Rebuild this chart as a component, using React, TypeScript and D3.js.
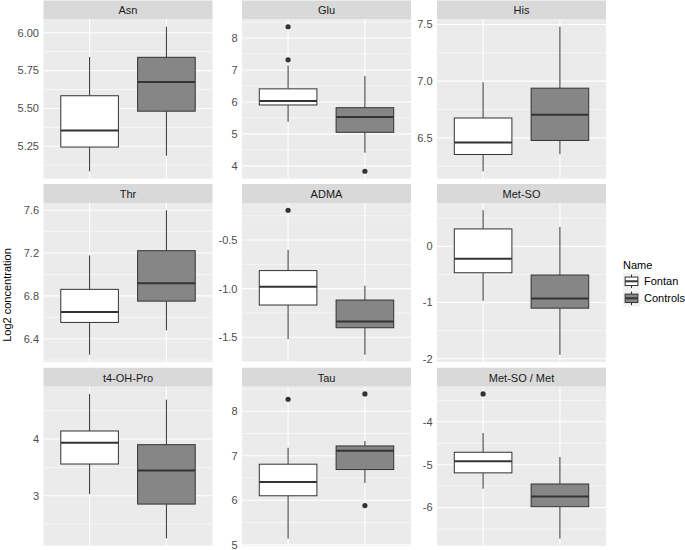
import React from "react";
import * as d3 from "d3";

const metabolites = ["Asn", "Glu", "His", "Thr", "ADMA", "Met-SO", "t4-OH-Pro", "Tau", "Met-SO / Met"];
const groups = ["Fontan", "Controls"];

// [lower whisker, Q1, median, Q3, upper whisker]
const fontanStats = [
  [5.085, 5.245, 5.355, 5.584, 5.84],
  [5.38, 5.906, 6.03, 6.41, 7.14],
  [6.205, 6.353, 6.459, 6.675, 6.99],
  [6.25, 6.552, 6.649, 6.861, 7.178],
  [-1.519, -1.168, -0.979, -0.814, -0.601],
  [-0.97, -0.47, -0.22, 0.31, 0.643],
  [3.03, 3.559, 3.935, 4.141, 4.794],
  [5.14, 6.1, 6.41, 6.81, 7.18],
  [-5.56, -5.19, -4.92, -4.71, -4.26],
];
const controlsStats = [
  [5.188, 5.482, 5.675, 5.838, 6.04],
  [4.41, 5.05, 5.53, 5.82, 6.816],
  [6.355, 6.477, 6.704, 6.938, 7.48],
  [6.478, 6.751, 6.917, 7.222, 7.6],
  [-1.68, -1.402, -1.337, -1.117, -0.969],
  [-1.93, -1.1, -0.93, -0.51, 0.346],
  [2.247, 2.853, 3.446, 3.9, 4.693],
  [6.39, 6.69, 7.11, 7.22, 7.33],
  [-6.72, -5.98, -5.74, -5.45, -4.82],
];
const fontanOutliers = [[], [8.355, 7.319], [], [], [-0.193], [], [], [8.27], [-3.35]];
const controlsOutliers = [[], [3.83], [], [], [], [], [], [8.39, 5.88], []];

const tickValues = [
  [5.25, 5.5, 5.75, 6.0],
  [4, 5, 6, 7, 8],
  [6.5, 7.0, 7.5],
  [6.4, 6.8, 7.2, 7.6],
  [-1.5, -1.0, -0.5],
  [-2, -1, 0],
  [3, 4],
  [5, 6, 7, 8],
  [-6, -5, -4],
];
const tickLabels = [
  ["5.25", "5.50", "5.75", "6.00"],
  ["4", "5", "6", "7", "8"],
  ["6.5", "7.0", "7.5"],
  ["6.4", "6.8", "7.2", "7.6"],
  ["-1.5", "-1.0", "-0.5"],
  ["-2", "-1", "0"],
  ["3", "4"],
  ["5", "6", "7", "8"],
  ["-6", "-5", "-4"],
];

const groupFills = ["#FFFFFF", "#868686"];

const W = 685;
const H = 550;
const colX = [43.5, 242, 437];
const panelW = 169;
const rowTop = [0.5, 184, 367.7];
const stripH = 19;
const panelH = 159;
const FONT = "'Liberation Sans', Arial, Helvetica, sans-serif";

function Panel({ idx }: { idx: number }) {
  const col = idx % 3;
  const row = Math.floor(idx / 3);
  const x0 = colX[col];
  const sTop = rowTop[row];
  const pTop = sTop + stripH;
  const pBot = pTop + panelH;

  const stats = [fontanStats[idx], controlsStats[idx]];
  const outs = [fontanOutliers[idx], controlsOutliers[idx]];
  const all = [...stats[0], ...stats[1], ...outs[0], ...outs[1]];
  const [mn, mx] = d3.extent(all) as [number, number];
  const pad = (mx - mn) * 0.05;
  const y = d3.scaleLinear().domain([mn - pad, mx + pad]).range([pBot, pTop]);

  const x = d3.scaleBand().domain(groups).range([x0, x0 + panelW]).paddingOuter(0.1).paddingInner(0.2);
  // ggplot discrete: positions at 0.6/2.2 and 1.6/2.2 of width, box width 0.75 units
  const unit = panelW / 2.2;
  const cx = (i: number) => x0 + (0.6 + i) * unit;
  const bw = 0.75 * unit;

  const ticks = tickValues[idx];
  const step = ticks.length > 1 ? ticks[1] - ticks[0] : 1;
  const ext = [ticks[0] - step, ...ticks, ticks[ticks.length - 1] + step];
  const minors: number[] = [];
  for (let i = 0; i < ext.length - 1; i++) {
    const m = (ext[i] + ext[i + 1]) / 2;
    const [d0, d1] = y.domain();
    if (m >= d0 && m <= d1) minors.push(m);
  }

  return (
    <g>
      <rect x={x0} y={sTop} width={panelW} height={stripH} fill="#D9D9D9" />
      <text
        x={x0 + panelW / 2}
        y={sTop + stripH / 2 + 0.5}
        dy="0.35em"
        textAnchor="middle"
        fontSize={11}
        fill="#1A1A1A"
        fontFamily={FONT}
      >
        {metabolites[idx]}
      </text>
      <rect x={x0} y={pTop} width={panelW} height={panelH} fill="#EBEBEB" />
      {minors.map((m, i) => (
        <line key={"mi" + i} x1={x0} x2={x0 + panelW} y1={y(m)} y2={y(m)} stroke="#FFFFFF" strokeWidth={0.6} />
      ))}
      {ticks.map((t, i) => (
        <line key={"ma" + i} x1={x0} x2={x0 + panelW} y1={y(t)} y2={y(t)} stroke="#FFFFFF" strokeWidth={1.1} />
      ))}
      {groups.map((g, i) => (
        <line key={"vx" + g} x1={cx(i)} x2={cx(i)} y1={pTop} y2={pBot} stroke="#FFFFFF" strokeWidth={1.1} />
      ))}
      {ticks.map((t, i) => (
        <text
          key={"tl" + i}
          x={x0 - 4.5}
          y={y(t)}
          dy="0.35em"
          textAnchor="end"
          fontSize={11}
          fill="#4D4D4D"
          fontFamily={FONT}
        >
          {tickLabels[idx][i]}
        </text>
      ))}
      {groups.map((g, i) => {
        const [lw, q1, med, q3, uw] = stats[i];
        const c = cx(i);
        return (
          <g key={"bx" + g}>
            <line x1={c} x2={c} y1={y(uw)} y2={y(q3)} stroke="#333333" strokeWidth={1} />
            <line x1={c} x2={c} y1={y(q1)} y2={y(lw)} stroke="#333333" strokeWidth={1} />
            <rect
              x={c - bw / 2}
              y={y(q3)}
              width={bw}
              height={y(q1) - y(q3)}
              fill={groupFills[i]}
              stroke="#333333"
              strokeWidth={1}
            />
            <line x1={c - bw / 2} x2={c + bw / 2} y1={y(med)} y2={y(med)} stroke="#333333" strokeWidth={2} />
            {outs[i].map((o, k) => (
              <circle key={k} cx={c} cy={y(o)} r={2.6} fill="#333333" />
            ))}
          </g>
        );
      })}
    </g>
  );
}

export default function App() {
  const keySize = 17;
  const legX = 623;
  const keyTops = [272.8, 289.8];
  return (
    <svg
      width={W}
      height={H}
      viewBox={`0 0 ${W} ${H}`}
      style={{ position: "absolute", left: 0, top: 0, display: "block", background: "#FFFFFF" }}
    >
      <rect x={0} y={0} width={W} height={H} fill="#FFFFFF" />
      {metabolites.map((m, i) => (
        <Panel key={m} idx={i} />
      ))}
      <text
        transform={`translate(11,295) rotate(-90)`}
        textAnchor="middle"
        fontSize={11}
        fill="#000000"
        fontFamily={FONT}
      >
        Log2 concentration
      </text>
      <text x={legX} y={268.5} fontSize={11} fill="#000000" fontFamily={FONT}>
        Name
      </text>
      {groups.map((g, i) => {
        const t = keyTops[i];
        const cxk = legX + keySize / 2;
        return (
          <g key={"lg" + g}>
            <rect x={legX} y={t} width={keySize} height={keySize} fill="#F2F2F2" />
            <line x1={cxk} x2={cxk} y1={t + keySize * 0.1} y2={t + keySize * 0.9} stroke="#333333" strokeWidth={1} />
            <rect
              x={legX + keySize * 0.125}
              y={t + keySize * 0.25}
              width={keySize * 0.75}
              height={keySize * 0.5}
              fill={groupFills[i]}
              stroke="#333333"
              strokeWidth={1}
            />
            <line
              x1={legX + keySize * 0.125}
              x2={legX + keySize * 0.875}
              y1={t + keySize / 2}
              y2={t + keySize / 2}
              stroke="#333333"
              strokeWidth={2}
            />
            <text x={legX + keySize + 4} y={t + keySize / 2} dy="0.35em" fontSize={11} fill="#000000" fontFamily={FONT}>
              {g}
            </text>
          </g>
        );
      })}
    </svg>
  );
}
